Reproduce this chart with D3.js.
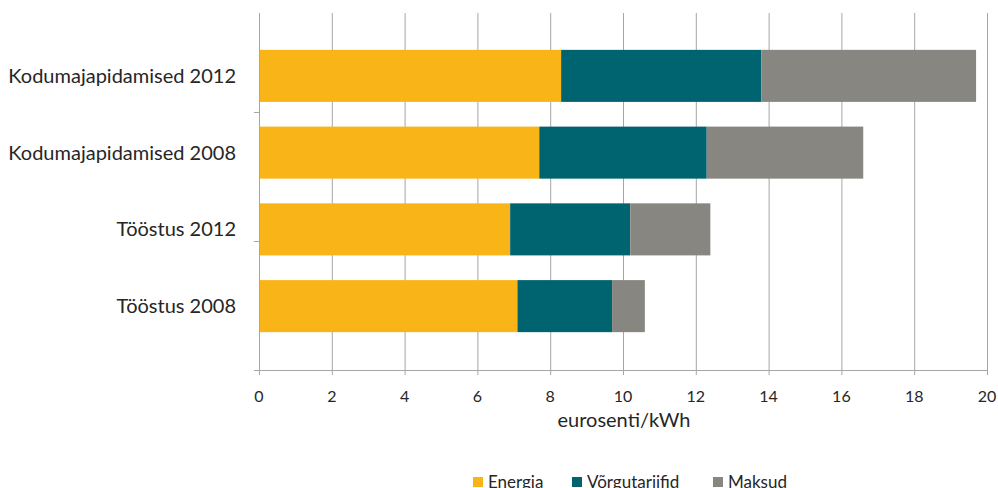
<!DOCTYPE html>
<html><head><meta charset="utf-8">
<script src="https://cdn.jsdelivr.net/npm/d3@7"></script>
<style>body{margin:0;background:#fff}svg{display:block}text{font-family:Lato,"Open Sans",sans-serif;fill:#262626}</style>
</head><body><svg id="c" width="998" height="488"></svg>
<script>
const categories = ["Kodumajapidamised 2012","Kodumajapidamised 2008","Tööstus 2012","Tööstus 2008"];
const energia = [8.3, 7.7, 6.9, 7.1];
const vorgutariifid = [5.5, 4.6, 3.3, 2.6];
const maksud = [5.9, 4.3, 2.2, 0.9];
const seriesNames = ["Energia","Võrgutariifid","Maksud"];
const colors = ["#F9B418","#006470","#878681"];
const xTicks = [0,2,4,6,8,10,12,14,16,18,20];

(function(){
const svg = d3.select("#c");
const x = d3.scaleLinear().domain([0,20]).range([259,987]);
const y = d3.scaleBand().domain(categories).range([37.5,344.5]).paddingInner(0.322).paddingOuter(0.161);
const plotTop = 13, plotBottom = 370;

svg.append("g").selectAll("line").data(xTicks.slice(1)).join("line")
  .attr("x1",d=>x(d)+0.5).attr("x2",d=>x(d)+0.5).attr("y1",plotTop).attr("y2",plotBottom)
  .attr("stroke","#a6a6a6").attr("stroke-width",1);

const rows = categories.map((c,i)=>({cat:c, Energia:energia[i], "Võrgutariifid":vorgutariifid[i], Maksud:maksud[i]}));
const stack = d3.stack().keys(seriesNames)(rows);
svg.append("g").selectAll("g").data(stack).join("g").attr("fill",(d,i)=>colors[i])
  .selectAll("rect").data(d=>d).join("rect")
  .attr("x",d=>x(d[0])).attr("width",d=>x(d[1])-x(d[0]))
  .attr("y",d=>y(d.data.cat)).attr("height",y.bandwidth());

const ax = svg.append("g");
ax.append("line").attr("x1",259.5).attr("x2",259.5).attr("y1",plotTop).attr("y2",plotBottom).attr("stroke","#a6a6a6");
ax.append("line").attr("x1",254).attr("x2",987.5).attr("y1",plotBottom+0.5).attr("y2",plotBottom+0.5).attr("stroke","#a6a6a6");
[112,241].forEach(t=>ax.append("line").attr("x1",254).attr("x2",259).attr("y1",t+0.5).attr("y2",t+0.5).attr("stroke","#a6a6a6"));
ax.selectAll("line.xt").data(xTicks).join("line").attr("class","xt")
  .attr("x1",d=>x(d)+0.5).attr("x2",d=>x(d)+0.5).attr("y1",plotBottom).attr("y2",plotBottom+5).attr("stroke","#a6a6a6");
ax.selectAll("text.xl").data(xTicks).join("text").attr("class","xl")
  .attr("x",d=>x(d)).attr("y",401.5).attr("text-anchor","middle").attr("font-size","16px").text(d=>d);
ax.selectAll("text.yl").data(categories).join("text").attr("class","yl")
  .attr("x",236).attr("y",d=>y(d)+y.bandwidth()/2).attr("dy","0.35em").attr("text-anchor","end")
  .attr("font-size","20px").text(d=>d);
svg.append("text").attr("x",624).attr("y",427).attr("text-anchor","middle").attr("font-size","20px").text("eurosenti/kWh");

const legX = [473,572,713];
const lg = svg.append("g").selectAll("g").data(seriesNames).join("g")
  .attr("transform",(d,i)=>`translate(${legX[i]},477)`);
lg.append("rect").attr("width",10).attr("height",10).attr("fill",(d,i)=>colors[i]);
lg.append("text").attr("x",15).attr("y",10.5).attr("font-size","17px").text(d=>d);
})();
</script></body></html>
